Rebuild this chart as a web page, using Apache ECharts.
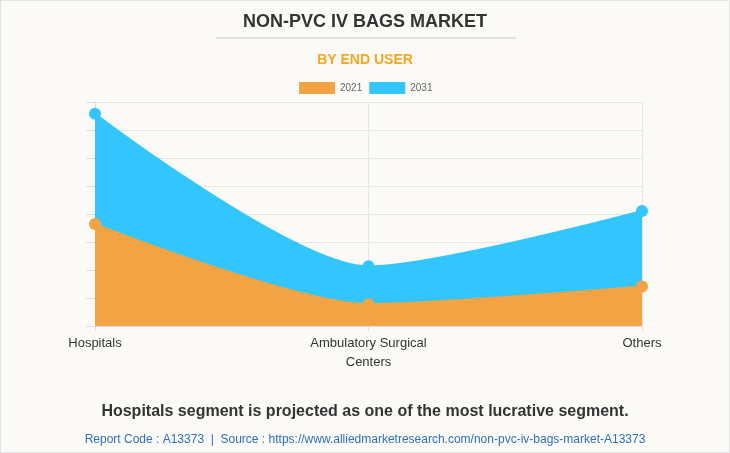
<!DOCTYPE html>
<html>
<head>
<meta charset="utf-8">
<script src="https://cdn.jsdelivr.net/npm/echarts@6/dist/echarts.min.js"></script>
<style>
html,body{margin:0;padding:0;background:#fbfaf6;}
#c{width:728px;height:451px;border:1px solid #e3e3e3;}
</style>
</head>
<body>
<div id="c"></div>
<script>
var categories = ['Hospitals', 'Ambulatory Surgical\nCenters', 'Others'];
var values2021 = [364, 78, 141];
var values2031 = [758, 213, 411];
var seriesNames = ['2021', '2031'];

var chart = echarts.init(document.getElementById('c'));
chart.setOption({
  backgroundColor: '#fbfaf6',
  animation: false,
  title: [
    {text: 'NON-PVC IV BAGS MARKET', left: 'center', top: 7,
     textStyle: {fontFamily: 'Arial, Liberation Sans', fontSize: 18, fontWeight: 'bold', color: '#333333'}},
    {text: 'BY END USER', left: 'center', top: 47,
     textStyle: {fontFamily: 'Arial, Liberation Sans', fontSize: 14, fontWeight: 'bold', color: '#f6a623'}},
    {text: 'Hospitals segment is projected as one of the most lucrative segment.', left: 'center', top: 398,
     textStyle: {fontFamily: 'Arial, Liberation Sans', fontSize: 16, fontWeight: 'bold', color: '#333333'}},
    {text: 'Report Code : A13373  |  Source : https://www.alliedmarketresearch.com/non-pvc-iv-bags-market-A13373', left: 'center', top: 428,
     textStyle: {fontFamily: 'Arial, Liberation Sans', fontSize: 12, fontWeight: 'normal', color: '#2f6fbd'}}
  ],
  graphic: [
    {type: 'line', shape: {x1: 215, y1: 37, x2: 515, y2: 37}, style: {stroke: '#c8c8c8', lineWidth: 1}}
  ],
  legend: {
    top: 76, left: 293,
    itemWidth: 36, itemHeight: 12, itemGap: 7,
    icon: 'rect',
    textStyle: {fontFamily: 'Arial, Liberation Sans', fontSize: 10, color: '#666666'},
    data: seriesNames
  },
  grid: {left: 94, right: 87, top: 101, bottom: 126},
  xAxis: {
    type: 'category', boundaryGap: false, data: categories,
    axisLine: {show: true, lineStyle: {color: '#dddddd'}},
    axisTick: {show: true, length: 5, lineStyle: {color: '#dddddd'}},
    axisLabel: {fontFamily: 'Arial, Liberation Sans', fontSize: 13, color: '#333333', margin: 8, lineHeight: 19},
    splitLine: {show: true, lineStyle: {color: '#e6e6e6'}}
  },
  yAxis: {
    type: 'value', min: 0, max: 800, interval: 100,
    axisLine: {show: true, lineStyle: {color: '#dddddd'}},
    axisTick: {show: true, length: 9, lineStyle: {color: '#dddddd'}},
    axisLabel: {show: false},
    splitLine: {show: true, lineStyle: {color: '#e6e6e6'}}
  },
  series: [
    {name: seriesNames[1], type: 'line', smooth: 0.25, data: values2031, z: 1,
     symbol: 'circle', symbolSize: 12,
     itemStyle: {color: '#33c6fe'}, lineStyle: {color: '#33c6fe', width: 2},
     areaStyle: {color: '#33c6fe', opacity: 1}},
    {name: seriesNames[0], type: 'line', smooth: 0.25, data: values2021, z: 2,
     symbol: 'circle', symbolSize: 12,
     itemStyle: {color: '#f2a444'}, lineStyle: {color: '#f2a444', width: 2},
     areaStyle: {color: '#f2a444', opacity: 1}}
  ]
});
</script>
</body>
</html>
